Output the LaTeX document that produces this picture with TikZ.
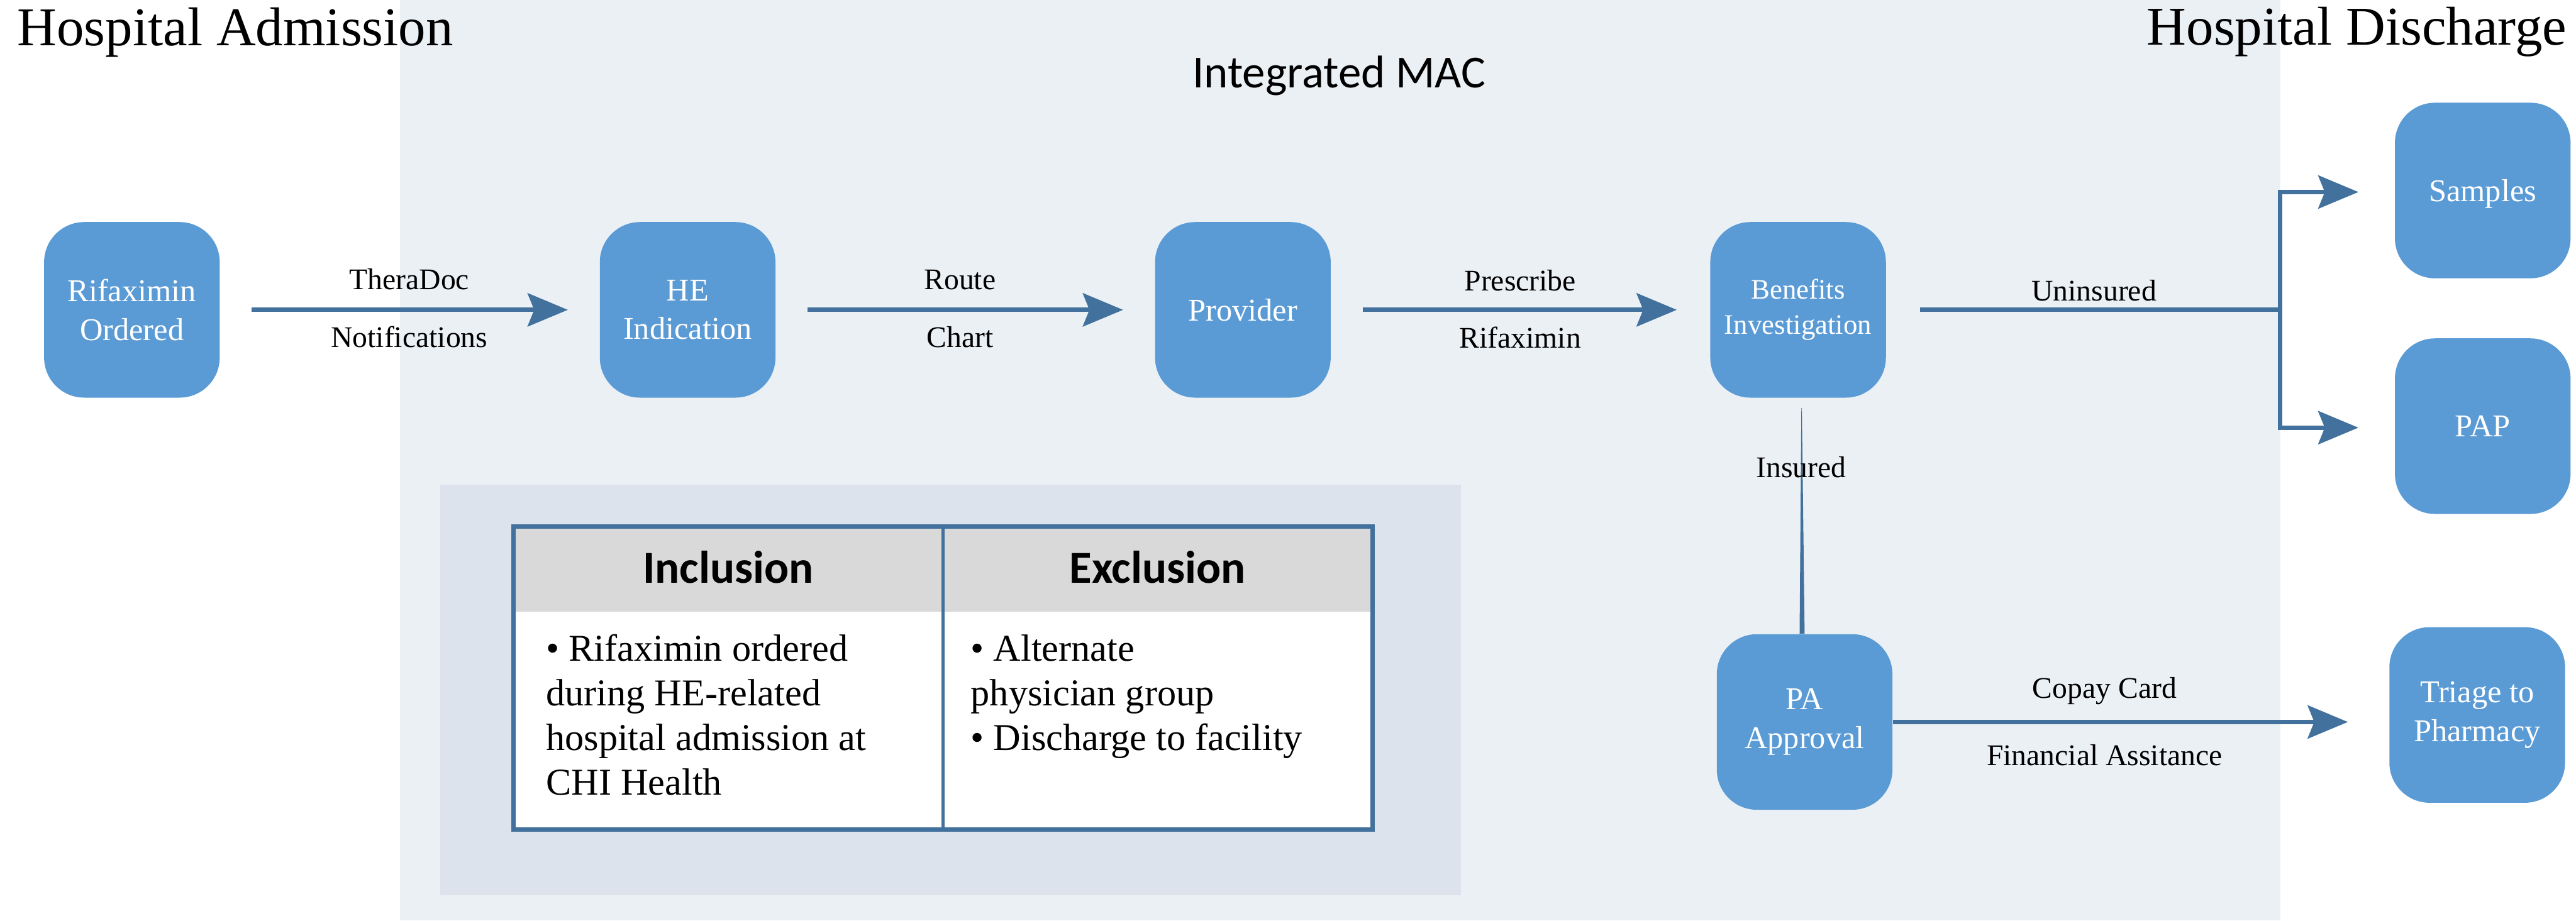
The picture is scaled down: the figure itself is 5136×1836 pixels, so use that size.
\documentclass[tikz,border=0pt]{standalone}
\usepackage{fontspec}
\setmainfont{Liberation Serif}
\newfontfamily\calibrifont{Carlito}
\usetikzlibrary{arrows.meta}
\definecolor{boxblue}{HTML}{5B9BD5}
\definecolor{arrowblue}{HTML}{41719C}
\definecolor{macbg}{HTML}{EBF0F5}
\definecolor{critbg}{HTML}{DCE3EC}
\definecolor{headgray}{HTML}{D9D9D9}
\begin{document}
\begin{tikzpicture}[x=0.01cm,y=-0.01cm,
  stage/.style={rounded corners=0.8cm, fill=boxblue, text=white,
    minimum width=3.5cm, minimum height=3.5cm, inner sep=0pt,
    align=center, font=\fontsize{18}{22}\selectfont},
  flow/.style={draw=arrowblue, line width=0.09cm,
    -{Stealth[length=0.8cm,width=0.66cm,inset=0.13cm]}},
  plainline/.style={draw=arrowblue, line width=0.09cm},
  lbl/.style={font=\fontsize{17}{20}\selectfont, anchor=base, inner sep=0pt},
  heading/.style={font=\fontsize{31}{36}\selectfont, inner sep=0pt},
  cellhead/.style={font=\calibrifont\bfseries\fontsize{26}{30}\selectfont, anchor=base, inner sep=0pt},
  cellline/.style={font=\fontsize{21.5}{25.5}\selectfont, anchor=base west, inner sep=0pt}
]
\useasboundingbox (0,0) rectangle (5136,1836);

% Integrated MAC band
\fill[macbg] (798,0) rectangle (4546,1836);
\node[font=\calibrifont\fontsize{26}{30}\selectfont, anchor=base, inner sep=0pt] (mac) at (2670,175) {Integrated MAC};

% headings
\node[heading, anchor=base west] (adm) at (34,91) {Hospital Admission};
\node[heading, anchor=base east] (dis) at (5118,90) {Hospital Discharge};

% process steps
\node[stage] (rif)  at (263,618)  {Rifaximin\\Ordered};
\node[stage] (he)   at (1371,618) {HE\\Indication};
\node[stage] (prov) at (2478,618) {Provider};
\node[stage, font=\fontsize{16}{20}\selectfont] (bi) at (3585,618) {Benefits\\Investigation};
\node[stage, text depth=0pt] (samp) at (4950,380) {Samples};
\node[stage] (pap)  at (4950,850) {PAP};
\node[stage] (pa)   at (3598,1440) {PA\\Approval};
\node[stage] (tri)  at (4939,1426) {Triage to\\Pharmacy};

% main flow
\draw[flow] ([xshift=0.63cm]rif.east) -- ([xshift=-0.63cm]he.west);
\draw[flow] ([xshift=0.63cm]he.east) -- ([xshift=-0.63cm]prov.west);
\draw[flow] ([xshift=0.63cm]prov.east) -- ([xshift=-0.66cm]bi.west);

% uninsured branch
\coordinate (junc) at (4546,618);
\draw[plainline] ([xshift=0.67cm]bi.east) -- (junc);
\draw[flow] (junc) |- ([xshift=-0.72cm,yshift=-0.03cm]samp.west);
\draw[flow] (junc) |- ([xshift=-0.72cm,yshift=-0.03cm]pap.west);

% insured link
\fill[arrowblue] ([xshift=0.065cm,yshift=-0.2cm]bi.south) -- ([xshift=0.075cm,yshift=-0.2cm]bi.south)
  -- ([xshift=0.0cm]pa.north) -- ([xshift=-0.1cm]pa.north) -- cycle;

% copay / financial assistance
\coordinate (trin) at ([xshift=-0.82cm]tri.west);
\draw[flow] (pa.east) -- (trin |- pa.east);

% connector labels
\node[lbl] (l1a) at (816,578)  {TheraDoc};
\node[lbl] (l1b) at (816,693)  {Notifications};
\node[lbl] (l2a) at (1914,578) {Route};
\node[lbl] (l2b) at (1914,693) {Chart};
\node[lbl] (l3a) at (3031,580) {Prescribe};
\node[lbl] (l3b) at (3031,694) {Rifaximin};
\node[lbl] (l4)  at (4175,600) {Uninsured};
\node[lbl] (l5)  at (3591,952) {Insured};
\node[lbl] (l6a) at (4196,1393) {Copay Card};
\node[lbl] (l6b) at (4196,1527) {Financial Assitance};

% criteria table
\fill[critbg] (878,967) rectangle (2913,1786);
\fill[white] (1024,1050) rectangle (2737,1655);
\fill[headgray] (1024,1050) rectangle (2737,1220);
\draw[arrowblue, line width=0.06cm] (1880,1050) -- (1880,1655);
\draw[arrowblue, line width=0.09cm] (1024,1050) rectangle (2737,1655);

\node[cellhead] (inch) at (1452,1163) {Inclusion};
\node[cellhead] (exch) at (2308,1163) {Exclusion};

\node[cellline] (inc1) at (1088,1318) {• Rifaximin ordered};
\node[cellline] (inc2) at (1088,1407) {during HE-related};
\node[cellline] (inc3) at (1088,1497) {hospital admission at};
\node[cellline] (inc4) at (1088,1586) {CHI Health};
\node[cellline] (exc1) at (1935,1318) {• Alternate};
\node[cellline] (exc2) at (1935,1407) {physician group};
\node[cellline] (exc3) at (1935,1497) {• Discharge to facility};
\end{tikzpicture}
\end{document}
